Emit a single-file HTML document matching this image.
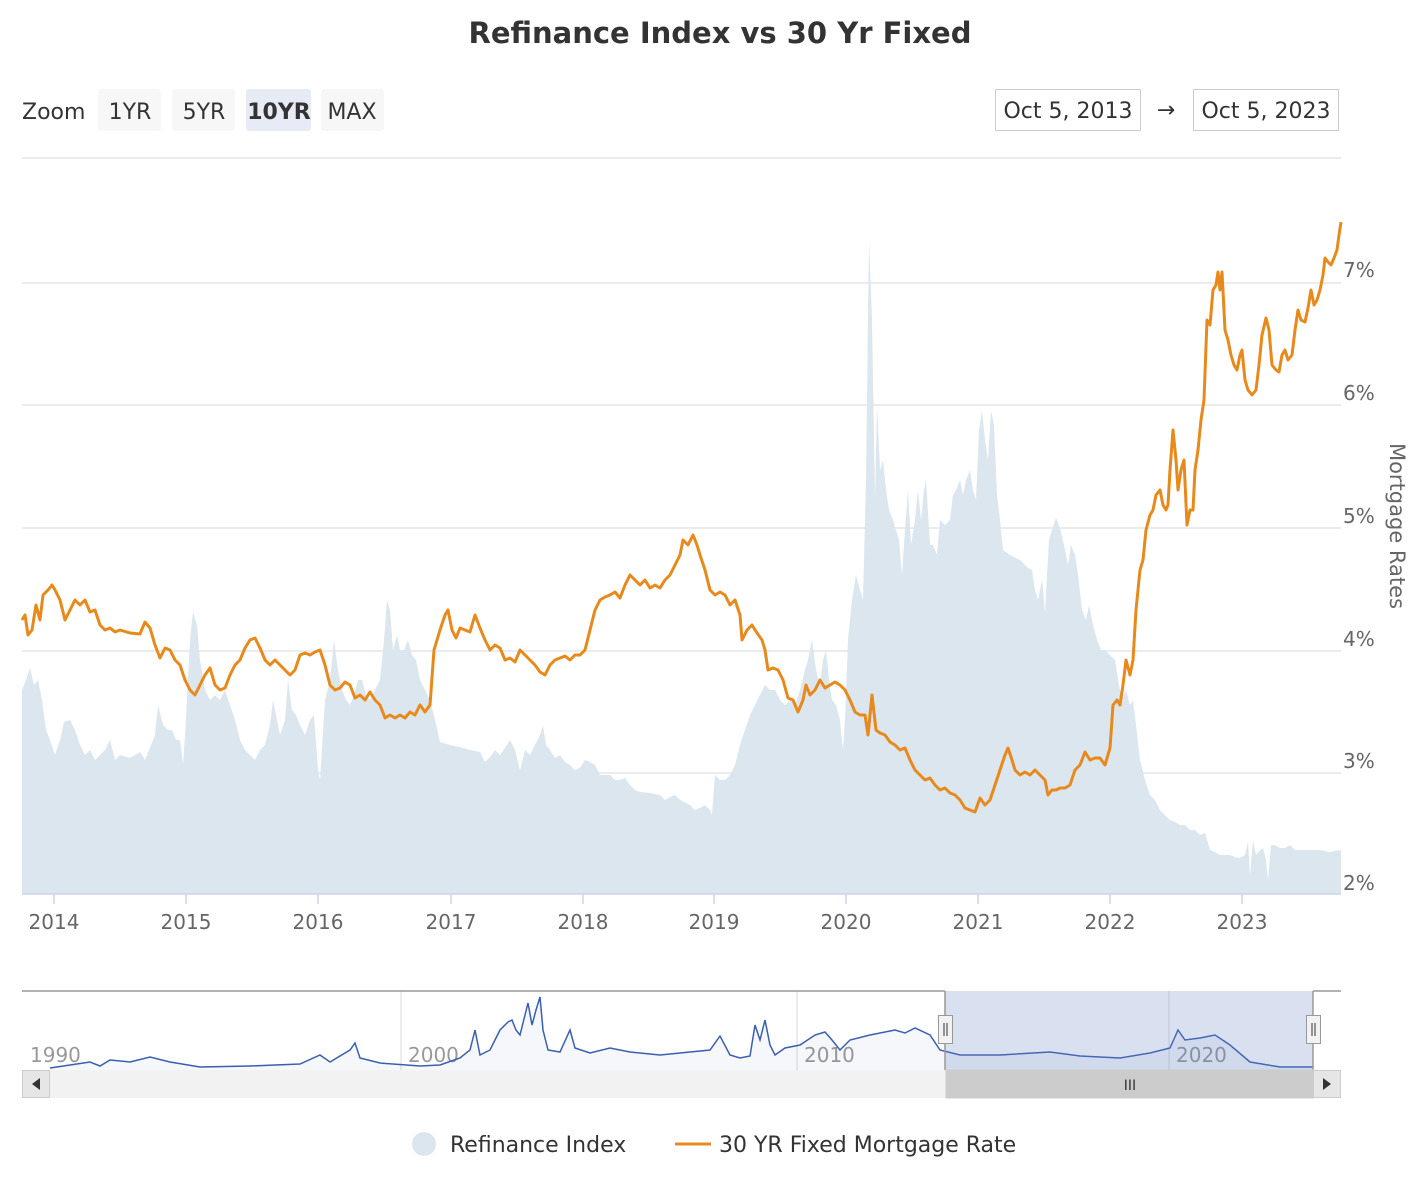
<!DOCTYPE html>
<html><head><meta charset="utf-8"><style>
body{margin:0;background:#fff;font-family:"Liberation Sans",sans-serif;}
svg text{font-family:"DejaVu Sans","Liberation Sans",sans-serif;}
</style></head><body>
<svg width="1426" height="1176" xmlns="http://www.w3.org/2000/svg">
<rect width="1426" height="1176" fill="#fff"/>
<text x="720" y="43" text-anchor="middle" font-size="29" font-weight="bold" fill="#333">Refinance Index vs 30 Yr Fixed</text>
<!-- zoom buttons -->
<text x="22" y="119" font-size="22" fill="#333">Zoom</text>
<rect x="98" y="89" width="63" height="42" rx="3" fill="#f7f7f7"/><text x="130" y="119" text-anchor="middle" font-size="22" fill="#333">1YR</text>
<rect x="172" y="89" width="63" height="42" rx="3" fill="#f7f7f7"/><text x="204" y="119" text-anchor="middle" font-size="22" fill="#333">5YR</text>
<rect x="246" y="89" width="65" height="42" rx="3" fill="#e6ebf5"/><text x="279" y="119" text-anchor="middle" font-size="22" font-weight="bold" fill="#333">10YR</text>
<rect x="321" y="89" width="63" height="42" rx="3" fill="#f7f7f7"/><text x="352" y="119" text-anchor="middle" font-size="22" fill="#333">MAX</text>
<rect x="995.5" y="89.5" width="145" height="41" fill="#fff" stroke="#ccc"/><text x="1068" y="118" text-anchor="middle" font-size="22" fill="#333">Oct 5, 2013</text>
<text x="1166" y="117" text-anchor="middle" font-size="22" fill="#333">→</text>
<rect x="1193.5" y="89.5" width="145" height="41" fill="#fff" stroke="#ccc"/><text x="1266" y="118" text-anchor="middle" font-size="22" fill="#333">Oct 5, 2023</text>
<!-- grid -->
<g stroke="#e6e6e6" stroke-width="1.5">
<line x1="22" x2="1341" y1="158" y2="158"/><line x1="22" x2="1341" y1="283" y2="283"/><line x1="22" x2="1341" y1="405" y2="405"/><line x1="22" x2="1341" y1="528" y2="528"/><line x1="22" x2="1341" y1="651" y2="651"/><line x1="22" x2="1341" y1="773" y2="773"/>
</g>
<!-- area -->
<polygon fill="#dce6ee" points="22,894 22,690 26,680 30,668 34,685 38,680 42,700 46,730 50,740 55,755 60,740 64,722 70,720 75,730 80,745 85,755 90,750 95,760 100,755 105,750 110,740 115,760 120,755 130,758 140,752 145,760 150,748 155,735 158,705 163,725 168,730 172,730 176,740 180,740 183,765 186,720 190,640 193,612 197,625 200,660 205,690 210,700 215,695 220,700 225,690 230,705 235,720 240,740 245,750 250,755 255,760 260,750 265,745 270,725 273,700 277,720 280,735 285,720 288,680 292,710 296,715 300,725 305,735 310,720 314,715 318,770 320,780 325,700 330,680 334,640 338,670 342,690 346,700 350,705 354,695 358,680 362,680 366,695 370,700 375,690 380,680 384,640 387,600 390,610 393,650 397,635 400,650 404,650 408,640 412,655 416,660 420,680 425,690 430,700 435,720 440,742 450,745 460,747 470,750 480,752 485,762 490,757 495,750 500,755 505,748 510,740 515,750 520,770 525,750 530,755 535,745 540,735 543,725 546,745 550,750 555,758 560,755 565,762 570,765 575,770 580,768 585,760 590,762 595,765 600,775 605,775 610,775 615,780 620,780 625,778 630,785 635,790 640,792 650,793 660,795 665,800 670,797 675,795 680,800 690,805 695,810 700,808 705,805 710,810 712,815 715,775 720,780 725,780 730,775 735,765 740,745 745,730 750,715 755,705 760,695 765,685 770,690 775,690 780,700 785,705 790,700 795,705 800,690 805,670 808,660 812,640 816,670 820,685 823,660 826,650 829,680 832,700 836,705 840,720 843,750 845,720 848,640 852,600 856,575 860,590 863,600 866,480 869,240 872,320 875,500 877,405 880,470 883,460 886,490 889,510 893,520 896,530 899,540 902,575 905,530 908,490 911,545 915,520 918,490 921,520 924,490 926,480 930,545 933,545 937,555 940,520 945,525 950,520 953,495 956,490 960,480 963,495 966,480 970,470 973,490 976,500 979,430 982,410 985,440 988,460 991,410 994,425 997,495 1000,520 1003,550 1010,555 1020,560 1028,568 1032,570 1035,590 1038,600 1042,580 1045,612 1049,540 1052,530 1056,518 1060,528 1064,545 1068,565 1071,545 1075,555 1078,575 1082,610 1086,620 1089,605 1093,625 1097,640 1101,650 1105,650 1110,655 1115,660 1118,680 1122,700 1126,690 1130,705 1133,700 1136,725 1140,760 1145,780 1150,795 1155,800 1160,810 1165,815 1170,820 1175,822 1180,825 1185,825 1190,830 1195,830 1200,835 1205,833 1210,850 1215,852 1220,855 1225,855 1230,855 1235,857 1240,858 1245,855 1248,842 1250,875 1253,840 1256,855 1260,850 1263,848 1266,860 1268,880 1271,845 1275,845 1280,848 1285,848 1290,845 1295,850 1300,850 1310,850 1320,850 1330,852 1341,850 1341,894"/>
<line x1="22" x2="1341" y1="894" y2="894" stroke="#ccd6eb" stroke-width="1.5"/>
<!-- orange -->
<polyline fill="none" stroke="#e8891c" stroke-width="3" stroke-linejoin="round" points="22,620 25,615 28,635 32,630 36,605 40,620 43,595 48,590 52,585 55,590 60,600 65,620 70,610 75,600 80,605 85,600 90,612 95,610 100,625 105,630 110,628 115,632 120,630 130,633 140,634 145,622 150,628 155,645 160,658 165,648 170,650 175,660 180,665 185,680 190,690 195,695 200,685 205,675 210,668 215,685 220,690 225,688 230,675 235,665 240,660 245,648 250,640 255,638 260,648 265,660 270,665 275,660 280,665 285,670 290,675 295,670 300,655 305,653 310,655 315,652 320,650 325,665 330,685 335,690 340,688 345,682 350,685 355,698 360,695 365,700 370,692 375,700 380,705 385,718 390,715 395,718 400,715 405,718 410,712 415,715 420,705 425,712 430,705 434,650 440,630 445,615 448,610 452,630 456,638 460,628 465,630 470,632 475,615 480,628 485,640 490,650 495,645 500,648 505,660 510,658 515,662 520,650 525,655 530,660 535,665 540,672 545,675 550,665 555,660 560,658 565,656 570,660 575,655 580,655 585,650 590,630 595,610 600,600 605,597 610,595 615,592 620,598 625,585 630,575 635,580 640,585 645,580 650,588 655,585 660,588 665,580 670,575 675,565 680,555 683,540 688,545 693,535 697,545 700,555 705,570 710,590 715,595 720,592 725,595 730,605 735,600 740,615 742,640 747,630 752,625 757,633 762,640 765,650 768,670 773,668 778,670 783,680 788,698 793,700 798,712 803,700 806,685 810,695 815,690 820,680 825,688 830,685 835,682 840,685 845,690 850,700 855,712 860,715 865,715 868,735 872,695 876,730 880,733 885,735 890,742 895,745 900,750 905,748 910,760 915,770 920,775 925,780 930,778 935,785 940,790 945,788 950,793 955,795 960,800 965,808 970,810 975,812 980,798 985,805 990,800 995,785 1000,770 1005,755 1008,748 1012,760 1015,770 1020,775 1025,772 1030,775 1035,770 1040,775 1045,780 1048,795 1052,790 1056,790 1060,788 1065,788 1070,785 1075,770 1080,765 1085,752 1090,760 1095,758 1100,758 1105,765 1110,748 1113,705 1117,700 1120,705 1123,685 1126,660 1130,675 1133,660 1136,610 1140,570 1143,560 1146,530 1150,515 1153,510 1156,495 1160,490 1163,505 1166,510 1168,505 1170,470 1173,430 1176,460 1178,490 1181,470 1184,460 1187,525 1190,510 1193,510 1195,470 1198,450 1201,420 1204,400 1207,320 1210,325 1213,290 1216,285 1218,272 1220,290 1222,272 1225,330 1228,340 1231,355 1234,365 1237,370 1240,355 1242,350 1245,380 1248,390 1252,395 1256,390 1259,365 1262,335 1266,318 1269,330 1272,365 1276,370 1279,372 1282,355 1285,350 1288,360 1292,355 1295,330 1298,310 1301,320 1305,322 1308,308 1311,290 1314,305 1317,300 1320,290 1323,275 1325,258 1328,262 1331,265 1334,258 1337,250 1339,235 1341,222"/>
<!-- y labels -->
<g font-size="20" fill="#666">
<text x="1343" y="277">7%</text><text x="1343" y="400">6%</text><text x="1343" y="523">5%</text><text x="1343" y="646">4%</text><text x="1343" y="768">3%</text><text x="1343" y="890">2%</text>
</g>
<text transform="translate(1390,526) rotate(90)" text-anchor="middle" font-size="21" fill="#666">Mortgage Rates</text>
<!-- x labels -->
<g font-size="20" fill="#666" text-anchor="middle">
<text x="54" y="929">2014</text><text x="186" y="929">2015</text><text x="318" y="929">2016</text><text x="451" y="929">2017</text><text x="583" y="929">2018</text><text x="714" y="929">2019</text><text x="846" y="929">2020</text><text x="978" y="929">2021</text><text x="1110" y="929">2022</text><text x="1242" y="929">2023</text>
</g>
<g stroke="#ccd6eb" stroke-width="1.5"><line x1="54" x2="54" y1="894" y2="904"/><line x1="186" x2="186" y1="894" y2="904"/><line x1="318" x2="318" y1="894" y2="904"/><line x1="451" x2="451" y1="894" y2="904"/><line x1="583" x2="583" y1="894" y2="904"/><line x1="714" x2="714" y1="894" y2="904"/><line x1="846" x2="846" y1="894" y2="904"/><line x1="978" x2="978" y1="894" y2="904"/><line x1="1110" x2="1110" y1="894" y2="904"/><line x1="1242" x2="1242" y1="894" y2="904"/></g>
<!-- navigator -->
<g stroke="#e6e6e6" stroke-width="1.5"><line x1="401" x2="401" y1="991" y2="1070"/><line x1="797" x2="797" y1="991" y2="1070"/><line x1="1169" x2="1169" y1="991" y2="1070"/></g>
<g font-size="20" fill="#999"><text x="30" y="1062">1990</text><text x="408" y="1062">2000</text><text x="804" y="1062">2010</text><text x="1176" y="1062">2020</text></g>
<polygon fill="rgba(51,92,173,0.05)" points="50,1068 70,1065 90,1062 100,1066 110,1060 130,1062 150,1057 170,1062 200,1067 250,1066 300,1064 320,1055 330,1062 350,1050 355,1043 360,1058 380,1063 420,1066 440,1065 460,1058 470,1050 475,1030 480,1055 490,1050 500,1030 508,1022 512,1020 516,1030 520,1035 525,1015 528,1003 532,1025 536,1010 540,997 543,1030 548,1050 560,1052 570,1030 575,1048 590,1053 610,1048 630,1052 660,1055 690,1052 710,1050 720,1036 730,1055 740,1058 750,1056 755,1025 760,1040 765,1020 770,1045 775,1055 785,1048 800,1045 815,1035 825,1032 832,1040 840,1050 850,1040 870,1035 895,1030 905,1033 915,1028 930,1035 940,1050 960,1055 1000,1055 1050,1052 1080,1056 1120,1058 1150,1053 1170,1048 1178,1030 1185,1040 1200,1038 1215,1035 1230,1045 1250,1062 1280,1067 1313,1067 1313,1070 50,1070"/>
<polyline fill="none" stroke="#3a5fb0" stroke-width="1.5" points="50,1068 70,1065 90,1062 100,1066 110,1060 130,1062 150,1057 170,1062 200,1067 250,1066 300,1064 320,1055 330,1062 350,1050 355,1043 360,1058 380,1063 420,1066 440,1065 460,1058 470,1050 475,1030 480,1055 490,1050 500,1030 508,1022 512,1020 516,1030 520,1035 525,1015 528,1003 532,1025 536,1010 540,997 543,1030 548,1050 560,1052 570,1030 575,1048 590,1053 610,1048 630,1052 660,1055 690,1052 710,1050 720,1036 730,1055 740,1058 750,1056 755,1025 760,1040 765,1020 770,1045 775,1055 785,1048 800,1045 815,1035 825,1032 832,1040 840,1050 850,1040 870,1035 895,1030 905,1033 915,1028 930,1035 940,1050 960,1055 1000,1055 1050,1052 1080,1056 1120,1058 1150,1053 1170,1048 1178,1030 1185,1040 1200,1038 1215,1035 1230,1045 1250,1062 1280,1067 1313,1067"/>
<rect x="945" y="991" width="368" height="79" fill="rgba(102,133,194,0.25)"/>
<path d="M22,991 H945 M945,991 V1070 M1313,991 V1070 M1313,991 H1341" stroke="#999" stroke-width="1.5" fill="none"/>
<rect x="938.5" y="1015.5" width="14" height="28" fill="#f2f2f2" stroke="#999"/><line x1="944" x2="944" y1="1023" y2="1036" stroke="#333"/><line x1="947" x2="947" y1="1023" y2="1036" stroke="#333"/>
<rect x="1306.5" y="1015.5" width="14" height="28" fill="#f2f2f2" stroke="#999"/><line x1="1312" x2="1312" y1="1023" y2="1036" stroke="#333"/><line x1="1315" x2="1315" y1="1023" y2="1036" stroke="#333"/>
<!-- scrollbar -->
<rect x="22" y="1070" width="1319" height="28" fill="#f2f2f2"/>
<rect x="946" y="1070" width="367" height="28" fill="#cccccc" stroke="#ccc"/>
<text x="1130" y="1090" text-anchor="middle" font-size="14" fill="#333">III</text>
<rect x="22.5" y="1070.5" width="27" height="27" fill="#e6e6e6" stroke="#ccc"/><path d="M40,1078 L32,1084 L40,1090Z" fill="#333"/>
<rect x="1313.5" y="1070.5" width="27" height="27" fill="#e6e6e6" stroke="#ccc"/><path d="M1323,1078 L1331,1084 L1323,1090Z" fill="#333"/>
<!-- legend -->
<circle cx="424" cy="1144" r="12" fill="#dce6ee"/>
<text x="450" y="1152" font-size="22" fill="#333">Refinance Index</text>
<line x1="675" x2="711" y1="1144" y2="1144" stroke="#e8891c" stroke-width="3"/>
<text x="719" y="1152" font-size="22" fill="#333">30 YR Fixed Mortgage Rate</text>
</svg>
</body></html>
